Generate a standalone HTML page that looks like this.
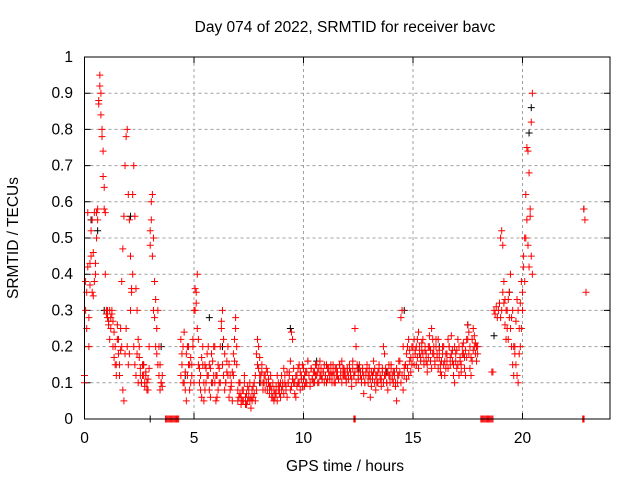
<!DOCTYPE html>
<html><head><meta charset="utf-8"><style>
html,body{margin:0;padding:0;background:#fff}
svg text{font-family:"Liberation Sans",sans-serif;font-size:15.5px;fill:#000}
</style></head><body>
<svg id="chart" width="640" height="480" viewBox="0 0 640 480" xmlns="http://www.w3.org/2000/svg">
<rect width="640" height="480" fill="#fff"/>
<text x="345" y="32" text-anchor="middle">Day 074 of 2022, SRMTID for receiver bavc</text>
<g id="grid"></g>
<g id="ticks"></g>
<g id="marks"></g>
<rect x="84.5" y="57" width="525.5" height="362" fill="none" stroke="#000" stroke-width="1"/>
<text x="345" y="471" text-anchor="middle">GPS time / hours</text>
<text x="0" y="0" text-anchor="middle" transform="translate(18,238) rotate(-90)">SRMTID / TECUs</text>
</svg>
<script>
const xTicks=[0,5,10,15,20];
const yTicks=[0,0.1,0.2,0.3,0.4,0.5,0.6,0.7,0.8,0.9,1];
const yTickLabels=["0","0.1","0.2","0.3","0.4","0.5","0.6","0.7","0.8","0.9","1"];
const segStarts=[0.0,0.0,1.0,1.0,3.0,3.0,3.7,4.4,4.4,7.0,7.0,9.0,9.0,15.0,15.0,18.1,18.6,19.0,19.0,22.8];
const segVals=[
[0.12,0.38,0.25,0.57,0.2,0.43,0.52,0.35,0.46,0.57,0.4,0.5,0.58,0.88,0.95,0.9,0.8,0.74,0.64,0.57],
[0.1,0.3,0.35,0.42,0.28,0.37,0.45,0.55,0.34,0.38,0.43,0.57,0.55,0.87,0.92,0.84,0.78,0.67,0.58,0.4],
[0.3,0.28,0.27,0.3,0.25,0.29,0.27,0.24,0.2,0.15,0.26,0.22,0.12,0.19,0.2,0.08,0.05,0.18,0.25,0.2,0.15,0.18,0.3,0.35,0.4,0.2,0.15,0.12,0.18,0.1,0.2,0.14,0.1,0.12,0.15,0.09,0.12,0.1,0.08,0.14],
[0.29,0.3,0.26,0.22,0.28,0.3,0.2,0.17,0.15,0.12,0.22,0.18,0.15,0.25,0.38,0.47,0.56,0.7,0.78,0.8,0.62,0.55,0.45,0.36,0.62,0.7,0.56,0.36,0.3,0.22,0.17,0.12,0.1,0.15,0.12,0.1,0.13,0.08,0.11,0.2],
[0.48,0.55,0.62,0.5,0.38,0.33,0.25,0.3,0.2,0.15,0.1,0.12],
[0.52,0.6,0.45,0.3,0.28,0.2,0.18,0.15,0.12,0.08,0.1,0.09],
[0,0,0,0,0,0,0,0,0,0,0,0,0],
[0.22,0.15,0.1,0.24,0.08,0.18,0.12,0.2,0.15,0.1,0.15,0.2,0.3,0.36,0.32,0.4,0.22,0.14,0.08,0.17,0.2,0.05,0.15,0.1,0.12,0.2,0.08,0.14,0.18,0.1,0.12,0.2,0.05,0.12,0.08,0.14,0.1,0.27,0.3,0.22,0.18,0.1,0.13,0.2,0.15,0.08,0.1,0.13,0.18,0.22,0.25,0.15],
[0.12,0.18,0.2,0.1,0.13,0.05,0.2,0.15,0.08,0.17,0.12,0.22,0.1,0.3,0.35,0.25,0.15,0.1,0.12,0.06,0.15,0.1,0.08,0.14,0.18,0.12,0.15,0.06,0.1,0.16,0.2,0.1,0.12,0.06,0.15,0.1,0.2,0.25,0.15,0.12,0.08,0.1,0.16,0.12,0.06,0.12,0.09,0.05,0.12,0.16,0.28,0.2],
[0.05,0.1,0.07,0.04,0.08,0.05,0.12,0.06,0.04,0.09,0.06,0.05,0.03,0.08,0.06,0.1,0.05,0.08,0.15,0.2,0.17,0.12,0.15,0.1,0.12,0.08,0.1,0.13,0.11,0.09,0.12,0.08,0.06,0.05,0.07,0.09,0.12,0.08,0.07,0.1],
[0.08,0.06,0.1,0.06,0.05,0.08,0.1,0.04,0.07,0.05,0.08,0.1,0.06,0.05,0.09,0.07,0.12,0.18,0.22,0.14,0.12,0.1,0.13,0.08,0.1,0.12,0.14,0.08,0.1,0.07,0.09,0.06,0.1,0.08,0.06,0.07,0.05,0.1,0.09,0.06],
[0.08,0.1,0.07,0.12,0.09,0.06,0.1,0.13,0.08,0.24,0.22,0.1,0.07,0.12,0.09,0.14,0.1,0.08,0.12,0.15,0.11,0.09,0.13,0.1,0.16,0.12,0.09,0.14,0.11,0.1,0.13,0.15,0.12,0.1,0.14,0.16,0.12,0.11,0.13,0.15,0.12,0.1,0.14,0.13,0.11,0.15,0.12,0.13,0.1,0.14,0.12,0.13,0.11,0.15,0.12,0.16,0.14,0.12,0.13,0.11,0.14,0.12,0.15,0.13,0.11,0.14,0.12,0.25,0.2,0.14,0.12,0.15,0.13,0.11,0.14,0.12,0.1,0.13,0.15,0.12,0.14,0.11,0.13,0.12,0.16,0.14,0.12,0.1,0.13,0.15,0.12,0.11,0.14,0.2,0.18,0.12,0.1,0.13,0.15,0.12,0.14,0.11,0.13,0.12,0.1,0.14,0.12,0.16,0.13,0.28,0.3,0.2,0.12,0.15,0.11,0.14,0.12,0.16,0.13,0.15],
[0.12,0.09,0.14,0.1,0.08,0.13,0.1,0.12,0.16,0.09,0.11,0.14,0.1,0.06,0.12,0.1,0.15,0.13,0.11,0.09,0.14,0.12,0.1,0.13,0.16,0.12,0.1,0.14,0.11,0.13,0.1,0.12,0.15,0.13,0.1,0.12,0.14,0.11,0.13,0.1,0.12,0.15,0.11,0.14,0.12,0.13,0.1,0.15,0.12,0.1,0.14,0.12,0.11,0.15,0.13,0.1,0.12,0.14,0.12,0.1,0.13,0.11,0.14,0.12,0.09,0.16,0.12,0.13,0.1,0.15,0.11,0.14,0.12,0.1,0.13,0.07,0.1,0.12,0.14,0.1,0.12,0.06,0.09,0.11,0.13,0.1,0.08,0.12,0.1,0.14,0.11,0.09,0.13,0.1,0.12,0.14,0.1,0.08,0.12,0.1,0.15,0.12,0.1,0.13,0.09,0.05,0.1,0.12,0.16,0.1,0.12,0.08,0.14,0.15,0.18,0.2,0.22,0.19,0.17,0.2],
[0.2,0.22,0.18,0.15,0.22,0.24,0.2,0.17,0.19,0.22,0.16,0.2,0.18,0.15,0.2,0.23,0.19,0.25,0.22,0.18,0.15,0.2,0.17,0.22,0.19,0.15,0.12,0.18,0.2,0.16,0.14,0.18,0.22,0.2,0.17,0.23,0.19,0.15,0.2,0.18,0.14,0.22,0.2,0.16,0.13,0.18,0.21,0.17,0.19,0.22,0.26,0.24,0.2,0.17,0.22,0.25,0.2,0.18,0.16,0.2],
[0.17,0.15,0.19,0.2,0.17,0.14,0.18,0.16,0.21,0.18,0.15,0.19,0.16,0.13,0.17,0.2,0.16,0.14,0.18,0.2,0.16,0.22,0.18,0.14,0.17,0.13,0.16,0.2,0.15,0.12,0.18,0.16,0.14,0.2,0.15,0.18,0.16,0.12,0.1,0.16,0.19,0.15,0.12,0.17,0.15,0.2,0.18,0.14,0.12,0.17,0.22,0.18,0.14,0.12,0.16,0.19,0.23,0.21,0.2,0.18],
[0,0,0,0,0,0,0,0,0,0,0,0],
[0.13,0.13,0.3,0.29,0.31,0.28,0.3,0.32],
[0.5,0.52,0.48,0.38,0.33,0.3,0.25,0.22,0.35,0.4,0.28,0.3,0.2,0.18,0.15,0.12,0.1,0.25,0.32,0.38,0.35,0.45,0.5,0.62,0.75,0.74,0.68,0.56,0.82,0.9],
[0.28,0.3,0.35,0.32,0.26,0.22,0.3,0.33,0.28,0.25,0.2,0.15,0.12,0.2,0.27,0.33,0.3,0.18,0.2,0.25,0.3,0.42,0.38,0.5,0.55,0.48,0.42,0.58,0.45,0.4],
[0.58,0.55,0.35]
];
const blackTimes=[0.3,0.6,0.9,2.1,2.7,3.0,3.5,4.6,5.7,6.3,8.0,9.4,10.6,12.5,13.8,14.6,16.2,17.5,18.7,19.4,20.3,20.4,22.8];
const blackValues=[0.55,0.52,0.3,0.56,0.15,0.0,0.2,0.12,0.28,0.2,0.1,0.25,0.16,0.14,0.13,0.3,0.2,0.26,0.23,0.35,0.79,0.86,0.58];
const extraRedTimes=[12.3,12.33,12.36,22.75,22.78,22.81];
const extraRedValues=[0,0,0,0,0,0];
const STEP=0.05;
const X0=84.5,XS=21.9,Y0=419,YS=362;
function sx(t){return X0+t*XS;}
function sy(v){return Y0-v*YS;}
const NS="http://www.w3.org/2000/svg";
const grid=document.getElementById('grid'),ticks=document.getElementById('ticks'),marks=document.getElementById('marks');
function mk(tag,attrs,parent){const e=document.createElementNS(NS,tag);for(const k in attrs)e.setAttribute(k,attrs[k]);parent.appendChild(e);return e;}
xTicks.forEach(t=>{
  if(t>0){const l=mk('line',{x1:sx(t),x2:sx(t),y1:57,y2:419,stroke:'#a0a0a0','stroke-dasharray':'3,3'},grid);
  
  }
  const tm=mk('path',{d:`M${sx(t)},419v-6M${sx(t)},57v6`,stroke:'#000'},ticks);
  
  
  const tx=mk('text',{x:sx(t),y:443,'text-anchor':'middle'},ticks);tx.textContent=String(t);
  
  
});
yTicks.forEach((v,i)=>{
  if(v>0&&v<1){const l=mk('line',{x1:84.5,x2:610,y1:sy(v),y2:sy(v),stroke:'#a0a0a0','stroke-dasharray':'3,3'},grid);
  
  }
  const tm=mk('path',{d:`M84.5,${sy(v)}h6M610,${sy(v)}h-6`,stroke:'#000'},ticks);
  
  
  const tx=mk('text',{x:73,y:sy(v)+5,'text-anchor':'end'},ticks);tx.textContent=yTickLabels[i];
  
  
});
function plus(t,v,c){
  const x=sx(t),y=sy(v);
  const p=mk('path',{d:`M${x-3.5},${y}H${x+3.5}M${x},${y-3.5}V${y+3.5}`,stroke:c,'stroke-width':1,fill:'none'},marks);
  
  
}
blackTimes.forEach((t,i)=>plus(t,blackValues[i],'#000'));
segVals.forEach((vals,s)=>vals.forEach((v,i)=>plus(segStarts[s]+i*STEP,v,'#ff0000')));
extraRedTimes.forEach((t,i)=>plus(t,extraRedValues[i],'#ff0000'));
</script>
</body></html>
